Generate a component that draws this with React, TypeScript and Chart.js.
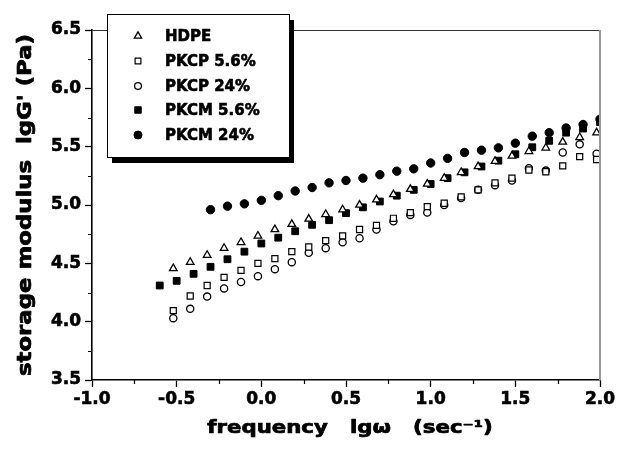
import React, { useEffect, useRef } from 'react';
import { Chart, registerables } from 'chart.js';
import { drawPoint } from 'chart.js/helpers';

Chart.register(...registerables);

const seriesNames = ['HDPE', 'PKCP 5.6%', 'PKCP 24%', 'PKCM 5.6%', 'PKCM 24%'];

const xOpen = [-0.52, -0.42, -0.32, -0.22, -0.12, -0.02, 0.08, 0.18, 0.28, 0.38, 0.48, 0.58, 0.68, 0.78, 0.88, 0.98, 1.08, 1.18, 1.28, 1.38, 1.48, 1.58, 1.68, 1.78, 1.88, 1.98];
const hdpe = [4.457, 4.51, 4.57, 4.63, 4.68, 4.735, 4.79, 4.835, 4.88, 4.92, 4.96, 5.0, 5.045, 5.09, 5.135, 5.18, 5.23, 5.28, 5.33, 5.375, 5.42, 5.46, 5.49, 5.54, 5.58, 5.62];
const pkcp56 = [4.095, 4.22, 4.31, 4.38, 4.44, 4.5, 4.54, 4.6, 4.64, 4.695, 4.735, 4.79, 4.825, 4.886, 4.935, 4.986, 5.015, 5.07, 5.13, 5.19, 5.23, 5.3, 5.285, 5.335, 5.415, 5.39];
const pkcp24 = [4.03, 4.11, 4.215, 4.285, 4.34, 4.39, 4.45, 4.51, 4.59, 4.63, 4.68, 4.715, 4.79, 4.86, 4.915, 4.935, 5.0, 5.06, 5.13, 5.17, 5.21, 5.315, 5.295, 5.45, 5.52, 5.44];

const xPkcm56 = [-0.6, -0.5, -0.4, -0.3, -0.2, -0.1, 0.0, 0.1, 0.2, 0.3, 0.4, 0.5, 0.6, 0.7, 0.8, 0.9, 1.0, 1.1, 1.2, 1.3, 1.4, 1.5, 1.6, 1.7, 1.8, 1.9, 2.0];
const pkcm56 = [4.31, 4.35, 4.41, 4.47, 4.535, 4.6, 4.67, 4.72, 4.775, 4.83, 4.87, 4.93, 4.98, 5.03, 5.08, 5.13, 5.18, 5.23, 5.28, 5.33, 5.38, 5.435, 5.495, 5.55, 5.62, 5.655, 5.71];

const xPkcm24 = [-0.3, -0.2, -0.1, 0.0, 0.1, 0.2, 0.3, 0.4, 0.5, 0.6, 0.7, 0.8, 0.9, 1.0, 1.1, 1.2, 1.3, 1.4, 1.5, 1.6, 1.7, 1.8, 1.9, 2.0];
const pkcm24 = [4.96, 4.99, 5.01, 5.04, 5.08, 5.12, 5.15, 5.19, 5.21, 5.23, 5.26, 5.29, 5.31, 5.36, 5.4, 5.45, 5.47, 5.49, 5.53, 5.59, 5.62, 5.66, 5.69, 5.735];

const xMajorTicks = [-1.0, -0.5, 0.0, 0.5, 1.0, 1.5, 2.0];
const xMinorTicks = [-0.75, -0.25, 0.25, 0.75, 1.25, 1.75];
const yMajorTicks = [3.5, 4.0, 4.5, 5.0, 5.5, 6.0, 6.5];
const yMinorTicks = [3.75, 4.25, 4.75, 5.25, 5.75, 6.25];

const xTitle = 'frequency   lg\u03C9   (sec\u207B\u00B9)';
const yTitle = "storage modulus  lgG' (Pa)";

const FONT = '"DejaVu Sans", "Liberation Sans", sans-serif';

const toPoints = (xs: number[], ys: number[]) => xs.map((x, i) => ({ x, y: ys[i] }));

const heavyText = (ctx: CanvasRenderingContext2D, text: string, x: number, y: number, w: number) => {
  ctx.fillText(text, x, y);
  ctx.lineWidth = w;
  ctx.strokeStyle = '#000';
  ctx.lineJoin = 'round';
  ctx.strokeText(text, x, y);
};

const decor = {
  id: 'decor',
  afterDatasetsDraw(chart: any) {
    const { ctx, chartArea: a, scales } = chart;
    const sx = scales.x;
    const sy = scales.y;
    ctx.save();
    ctx.strokeStyle = '#333';
    ctx.lineWidth = 1;
    ctx.beginPath();
    ctx.moveTo(a.left, a.top + 0.5);
    ctx.lineTo(a.right, a.top + 0.5);
    ctx.stroke();
    ctx.strokeStyle = '#9a9a9a';
    ctx.lineWidth = 2;
    ctx.beginPath();
    ctx.moveTo(a.right, a.top);
    ctx.lineTo(a.right, a.bottom);
    ctx.stroke();
    ctx.strokeStyle = '#000';
    ctx.lineWidth = 1.2;
    ctx.beginPath();
    xMinorTicks.forEach((v) => {
      const px = Math.round(sx.getPixelForValue(v)) + 0.5;
      ctx.moveTo(px, a.bottom);
      ctx.lineTo(px, a.bottom + 4);
    });
    yMinorTicks.forEach((v) => {
      const py = Math.round(sy.getPixelForValue(v)) + 0.5;
      ctx.moveTo(a.left - 4, py);
      ctx.lineTo(a.left, py);
    });
    ctx.stroke();
    ctx.restore();
  },
  afterDraw(chart: any) {
    const { ctx, chartArea: a } = chart;
    ctx.save();
    ctx.fillStyle = '#000';
    ctx.save();
    ctx.font = `bold 17px ${FONT}`;
    ctx.textAlign = 'center';
    ctx.textBaseline = 'alphabetic';
    ctx.translate((a.left + a.right) / 2 + 4, 433);
    ctx.scale(1.25, 1);
    heavyText(ctx, xTitle, 0, 0, 0.7);
    ctx.restore();
    ctx.save();
    ctx.font = `bold 19px ${FONT}`;
    ctx.textAlign = 'center';
    ctx.textBaseline = 'alphabetic';
    ctx.translate(30.5, (a.top + a.bottom) / 2);
    ctx.rotate(-Math.PI / 2);
    ctx.scale(1.2, 1);
    heavyText(ctx, yTitle, 0, 0, 0.7);
    ctx.restore();

    const bx = 107, by = 14, bw = 182, bh = 143;
    ctx.fillStyle = '#000';
    ctx.fillRect(bx + 5, by + 6, bw, bh);
    ctx.fillStyle = '#fff';
    ctx.fillRect(bx, by, bw, bh);
    ctx.strokeStyle = '#000';
    ctx.lineWidth = 1;
    ctx.strokeRect(bx + 0.5, by + 0.5, bw, bh);

    const rows = [36, 61, 86, 110, 135];
    chart.data.datasets.forEach((ds: any, i: number) => {
      const y = rows[i];
      ctx.fillStyle = ds.pointBackgroundColor;
      ctx.strokeStyle = ds.pointBorderColor;
      ctx.lineWidth = ds.pointBorderWidth;
      drawPoint(ctx, { pointStyle: ds.pointStyle, radius: ds.pointRadius * 0.95, rotation: 0, borderWidth: ds.pointBorderWidth }, 138, y);
      ctx.fillStyle = '#000';
      ctx.font = `bold 15px ${FONT}`;
      ctx.textAlign = 'left';
      ctx.textBaseline = 'middle';
      heavyText(ctx, ds.label, 165, y + 1, 0.6);
    });
    ctx.restore();
  },
};

export default function App() {
  const ref = useRef<HTMLCanvasElement | null>(null);

  useEffect(() => {
    if (!ref.current) return;
    const mk = (label: string, data: any[], style: string, radius: number, filled: boolean, bw: number) => ({
      label,
      data,
      showLine: false,
      pointStyle: style,
      pointRadius: radius,
      pointBorderWidth: bw,
      pointBorderColor: '#000',
      pointBackgroundColor: filled ? '#000' : '#fff',
      clip: { left: 8, top: 8, right: 0, bottom: 8 },
    });
    const tickFont = { family: FONT, size: 17, weight: 'bold' };
    const chart = new Chart(ref.current, {
      type: 'scatter',
      data: {
        datasets: [
          mk(seriesNames[0], toPoints(xOpen, hdpe), 'triangle', 4.4, false, 1.3),
          mk(seriesNames[1], toPoints(xOpen, pkcp56), 'rect', 4.3, false, 1.2),
          mk(seriesNames[2], toPoints(xOpen, pkcp24), 'circle', 3.6, false, 1.3),
          mk(seriesNames[3], toPoints(xPkcm56, pkcm56), 'rect', 4.8, true, 1),
          mk(seriesNames[4], toPoints(xPkcm24, pkcm24), 'circle', 4.2, true, 1),
        ] as any,
      },
      options: {
        animation: false,
        responsive: true,
        maintainAspectRatio: false,
        events: [],
        layout: { padding: { top: 30, right: 18, left: 0, bottom: 0 } },
        plugins: { legend: { display: false }, tooltip: { enabled: false }, title: { display: false } },
        scales: {
          x: {
            type: 'linear',
            min: -1.0,
            max: 2.0,
            afterBuildTicks: (s: any) => { s.ticks = xMajorTicks.map((v) => ({ value: v })); },
            afterFit: (s: any) => { s.height = 71; s.paddingLeft = 0; s.paddingRight = 0; },
            ticks: {
              autoSkip: false,
              maxRotation: 0,
              color: '#000',
              padding: 2,
              font: tickFont,
              textStrokeColor: '#000',
              textStrokeWidth: 0.6,
              callback: (v: any) => Number(v).toFixed(1),
            },
            grid: { display: true, drawOnChartArea: false, drawTicks: true, tickLength: 7, tickColor: '#000', tickWidth: 1.3 },
            border: { display: true, color: '#000', width: 1.6 },
          },
          y: {
            type: 'linear',
            min: 3.5,
            max: 6.5,
            afterBuildTicks: (s: any) => { s.ticks = yMajorTicks.map((v) => ({ value: v })); },
            afterFit: (s: any) => { s.width = 92; s.paddingTop = 0; s.paddingBottom = 0; },
            ticks: {
              autoSkip: false,
              color: '#000',
              padding: 4,
              font: tickFont,
              textStrokeColor: '#000',
              textStrokeWidth: 0.6,
              callback: (v: any) => Number(v).toFixed(1),
            },
            grid: { display: true, drawOnChartArea: false, drawTicks: true, tickLength: 7, tickColor: '#000', tickWidth: 1.3 },
            border: { display: true, color: '#000', width: 1.6 },
          },
        },
      } as any,
      plugins: [decor],
    });
    return () => chart.destroy();
  }, []);

  return (
    <div style={{ position: 'absolute', left: 0, top: 0, width: 618, height: 451, background: '#fff' }}>
      <canvas ref={ref} />
    </div>
  );
}
